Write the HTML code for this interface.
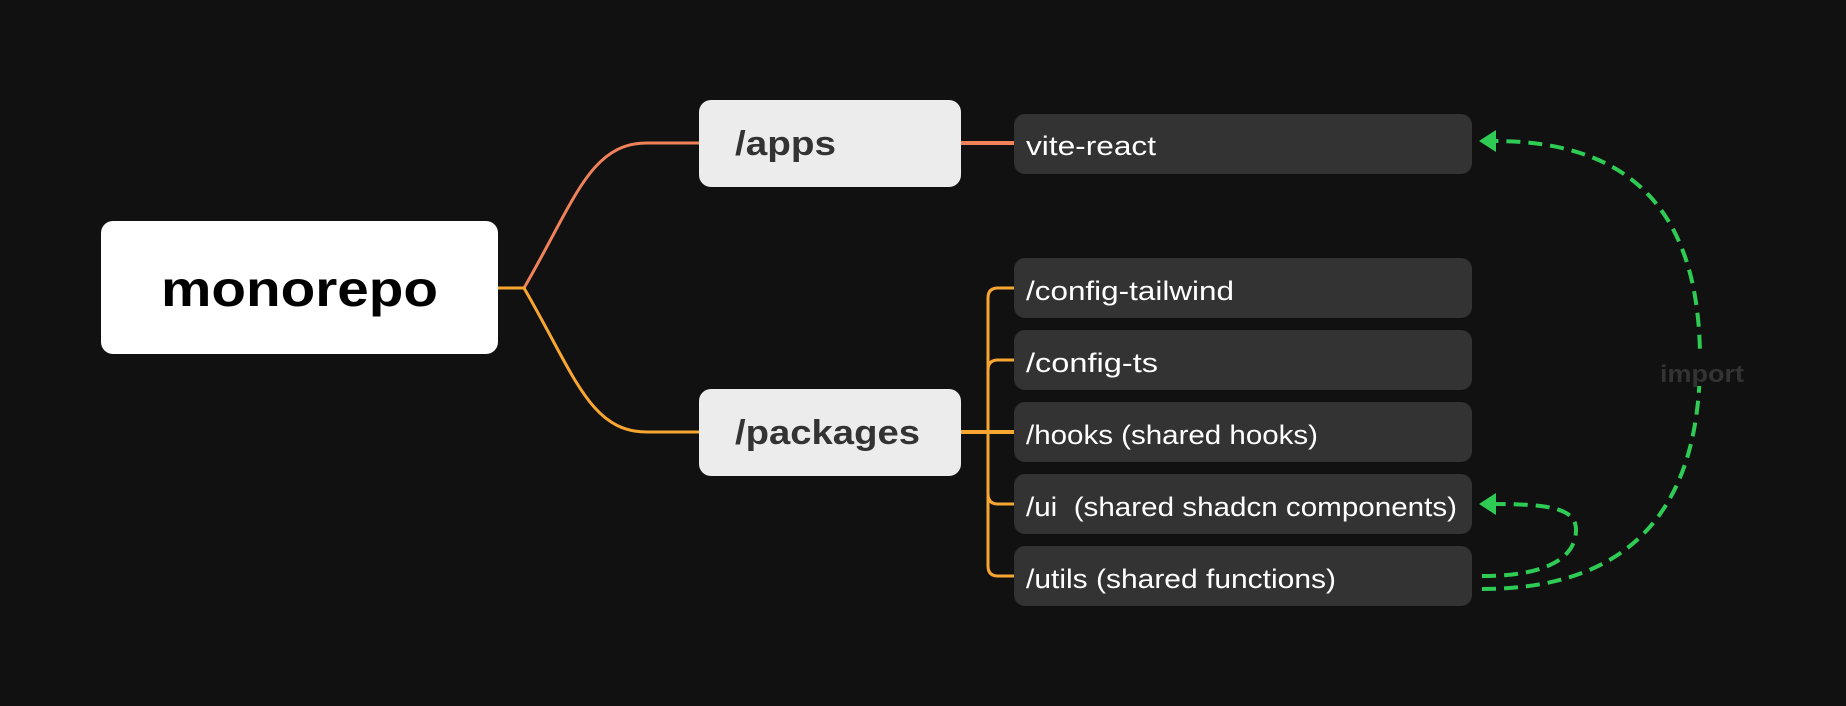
<!DOCTYPE html>
<html><head><meta charset="utf-8"><style>
html,body{margin:0;padding:0;background:#111;}
svg{display:block;font-family:"Liberation Sans",sans-serif;}
</style></head><body>
<svg width="1846" height="706" viewBox="0 0 1846 706" xmlns="http://www.w3.org/2000/svg">
<rect width="1846" height="706" fill="#111"/>
<path d="M498 288 H524 C575 200 590 143 647 143 H699" fill="none" stroke="#f0825a" stroke-width="3"/>
<path d="M498 288 H524 C575 376 590 432 647 432 H699" fill="none" stroke="#f8a632" stroke-width="3"/>
<path d="M961 143 H1015" stroke="#f0825a" stroke-width="4"/>
<path d="M961 432 H1015" stroke="#f8a632" stroke-width="4"/>
<g fill="none" stroke="#f8a632" stroke-width="3">
<path d="M1015 288 H998 Q988 288 988 298 V566 Q988 576 998 576 H1015"/>
<path d="M988 370 Q988 360 998 360 H1015"/>
<path d="M988 494 Q988 504 998 504 H1015"/>
</g>
<rect x="101" y="221" width="397" height="133" rx="12" fill="#fff"/>
<text x="161" y="306" font-size="50" font-weight="bold" fill="#000" textLength="277" lengthAdjust="spacingAndGlyphs">monorepo</text>
<rect x="699" y="100" width="262" height="87" rx="12" fill="#ececec"/>
<text x="735" y="155" font-size="34" font-weight="bold" fill="#333" textLength="101" lengthAdjust="spacingAndGlyphs">/apps</text>
<rect x="699" y="389" width="262" height="87" rx="12" fill="#ececec"/>
<text x="735" y="444" font-size="34" font-weight="bold" fill="#333" textLength="185" lengthAdjust="spacingAndGlyphs">/packages</text>
<g fill="#333">
<rect x="1014" y="114" width="458" height="60" rx="11"/>
<rect x="1014" y="258" width="458" height="60" rx="11"/>
<rect x="1014" y="330" width="458" height="60" rx="11"/>
<rect x="1014" y="402" width="458" height="60" rx="11"/>
<rect x="1014" y="474" width="458" height="60" rx="11"/>
<rect x="1014" y="546" width="458" height="60" rx="11"/>
</g>
<g fill="#fff" font-size="27">
<text x="1026" y="155" textLength="130" lengthAdjust="spacingAndGlyphs">vite-react</text>
<text x="1026" y="300" textLength="208" lengthAdjust="spacingAndGlyphs">/config-tailwind</text>
<text x="1026" y="372" textLength="132" lengthAdjust="spacingAndGlyphs">/config-ts</text>
<text x="1026" y="444" textLength="292" lengthAdjust="spacingAndGlyphs">/hooks (shared hooks)</text>
<text x="1026" y="516" xml:space="preserve" textLength="431" lengthAdjust="spacingAndGlyphs">/ui  (shared shadcn components)</text>
<text x="1026" y="588" textLength="310" lengthAdjust="spacingAndGlyphs">/utils (shared functions)</text>
</g>
<g fill="none" stroke="#2ecc55" stroke-width="4" stroke-dasharray="14 8">
<path d="M1482 589 C1620 589 1700 520 1700 360 C1700 200 1620 141 1494 141"/>
<path d="M1482 576 C1560 576 1576 550 1576 530 C1576 510 1555 504 1494 504"/>
</g>
<polygon points="1479,141 1496,130 1496,152" fill="#2ecc55"/>
<polygon points="1479,504 1496,493 1496,515" fill="#2ecc55"/>
<rect x="1660" y="356" width="84" height="30" fill="#111"/>
<text x="1660" y="382" font-size="24" font-weight="bold" fill="#333" textLength="84" lengthAdjust="spacingAndGlyphs">import</text>
</svg>
</body></html>
